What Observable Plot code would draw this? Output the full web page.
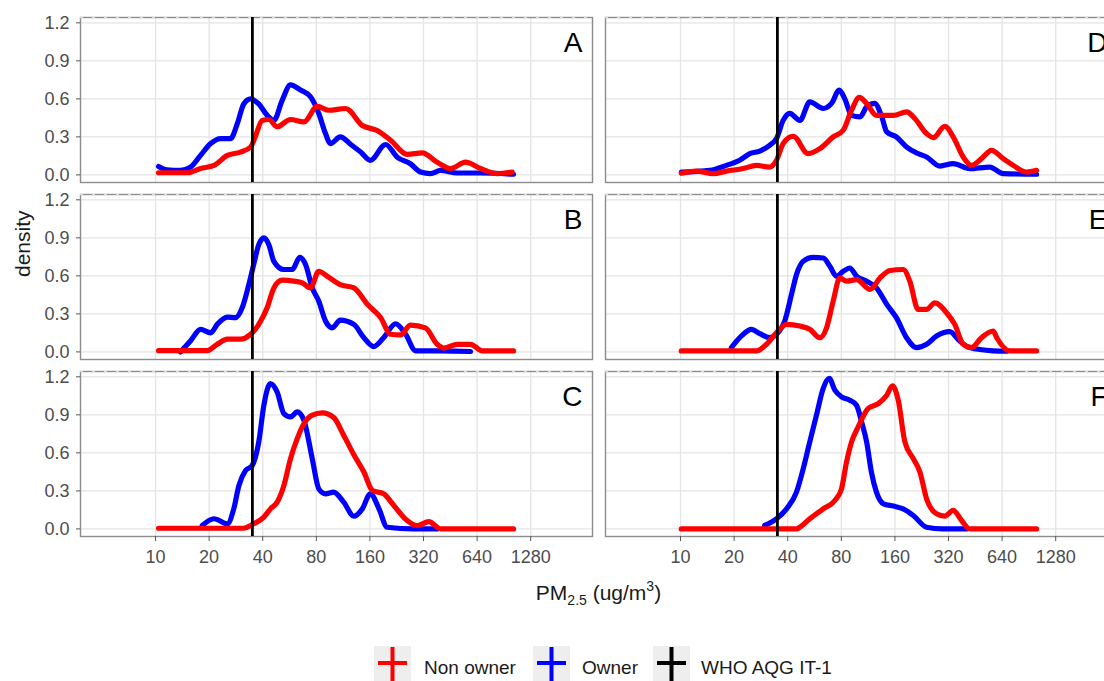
<!DOCTYPE html>
<html>
<head>
<meta charset="utf-8">
<script src="https://cdn.jsdelivr.net/npm/d3@7"></script>
<script src="https://cdn.jsdelivr.net/npm/@observablehq/plot@0.6"></script>
<style>
html, body { margin: 0; padding: 0; background: #fff; overflow: hidden; }
#wrap { position: relative; width: 1104px; height: 681px; overflow: hidden; font-family: "Liberation Sans", Arial, sans-serif; background: #fff; }
#wrap svg.plot { position: absolute; overflow: visible; }
#xlabel { position: absolute; left: 80px; width: 1037px; top: 582px; text-align: center; font-size: 21px; line-height: 21px; color: #1a1a1a; white-space: nowrap; }
#xlabel .sub { font-size: 14px; position: relative; top: 5px; }
#xlabel .sup { font-size: 14px; position: relative; top: -9px; }
.key { position: absolute; top: 646px; width: 37px; height: 37px; }
.ltext { position: absolute; top: 658px; font-size: 19px; line-height: 19px; color: #1a1a1a; white-space: nowrap; }
</style>
</head>
<body>
<div id="wrap">
  <div id="chart"></div>
  <div id="xlabel">PM<span class="sub">2.5</span> (ug/m<span class="sup">3</span>)</div>
  <div id="legend"></div>
</div>
<script>
// ---------- data ----------
const panels = ["A", "B", "C", "D", "E", "F"];
const panelCol = [0, 0, 0, 1, 1, 1];
const panelRow = [0, 1, 2, 0, 1, 2];
const groups = ["Non owner", "Owner"];
const groupColors = ["#ff0000", "#0000ff"];
const whoLabel = "WHO AQG IT-1";
const whoIT1 = 35;
const xTicks = [10, 20, 40, 80, 160, 320, 640, 1280];
const yTicks = [0, 0.3, 0.6, 0.9, 1.2];
const yTitle = "density";

// [PM2.5 (ug/m3), density]
const ownerA = [[10.4,0.067],[11.6,0.04],[13.8,0.035],[15.7,0.06],[17.9,0.154],[20.4,0.247],[23.2,0.287],[26.4,0.287],[28.8,0.405],[31.3,0.56],[34.2,0.60],[38.0,0.56],[42.4,0.47],[46.2,0.43],[51.5,0.59],[57.3,0.71],[65.2,0.67],[74.2,0.616],[82.6,0.485],[90.1,0.326],[96.1,0.247],[109,0.30],[125,0.24],[142,0.18],[161,0.115],[196,0.24],[228,0.14],[270,0.088],[308,0.022],[350,0.01],[399,0.035],[495,0.015],[669,0.015],[1025,0.005]];
const nonOwnerA = [[10.4,0.017],[15.1,0.017],[17.9,0.05],[21.3,0.075],[25.3,0.154],[30.0,0.18],[34.2,0.22],[36.5,0.31],[39.7,0.43],[43.3,0.437],[48.2,0.38],[57.3,0.437],[68.1,0.418],[81.0,0.54],[94.0,0.51],[117,0.524],[145,0.39],[176,0.35],[209,0.273],[259,0.162],[315,0.173],[382,0.10],[454,0.05],[551,0.10],[669,0.05],[830,0.01],[1008,0.022]];
const ownerB = [[13.8,0.0],[15.7,0.086],[17.9,0.178],[20.4,0.15],[22.2,0.217],[25.3,0.275],[28.1,0.27],[30.7,0.35],[33.4,0.53],[35.6,0.69],[38.0,0.846],[40.6,0.90],[43.3,0.846],[46.2,0.715],[52.6,0.65],[58.6,0.65],[64.6,0.746],[69.6,0.69],[75.9,0.505],[82.6,0.40],[90.1,0.244],[98.3,0.19],[109,0.25],[130,0.217],[148,0.112],[168,0.042],[191,0.112],[223,0.222],[254,0.139],[289,0.008],[399,0.008],[588,0.003]];
const nonOwnerB = [[10.4,0.01],[19.5,0.01],[22.2,0.06],[25.3,0.10],[30.0,0.10],[34.2,0.139],[38.0,0.217],[42.4,0.35],[46.2,0.505],[51.5,0.566],[59.8,0.558],[66.7,0.545],[74.2,0.505],[82.6,0.636],[92.1,0.597],[109,0.53],[130,0.505],[155,0.375],[184,0.27],[209,0.139],[238,0.134],[270,0.212],[328,0.19],[382,0.06],[416,0.03],[495,0.06],[588,0.06],[684,0.008],[1025,0.008]];
const ownerC = [[18.3,0.027],[21.3,0.08],[25.3,0.04],[27.5,0.158],[29.4,0.343],[32.0,0.46],[34.9,0.50],[38.0,0.686],[40.6,0.976],[44.2,1.147],[48.2,1.08],[52.6,0.91],[57.3,0.884],[62.5,0.923],[68.1,0.858],[75.9,0.554],[82.6,0.316],[90.1,0.277],[100,0.29],[114,0.211],[130,0.1],[145,0.158],[161,0.277],[180,0.158],[200,0.013],[281,0.0],[382,0.0]];
const nonOwnerC = [[10.4,0.005],[31.2,0.005],[35.6,0.04],[40.6,0.093],[44.2,0.158],[48.2,0.211],[52.6,0.343],[57.3,0.554],[62.5,0.712],[68.1,0.83],[75.9,0.897],[86.3,0.915],[100,0.88],[114,0.739],[130,0.585],[148,0.449],[165,0.304],[191,0.277],[218,0.185],[259,0.066],[295,0.026],[343,0.058],[399,0.0],[1025,0.0]];
const ownerD = [[10.1,0.022],[14.6,0.036],[18.1,0.075],[21.5,0.115],[24.5,0.168],[27.9,0.188],[31.7,0.234],[34.6,0.287],[37.7,0.43],[41.1,0.485],[46.8,0.43],[53.2,0.576],[63.3,0.524],[70.5,0.564],[77.9,0.669],[83.7,0.60],[91.3,0.47],[102,0.458],[111,0.537],[123,0.564],[135,0.458],[144,0.339],[163,0.30],[186,0.22],[212,0.173],[241,0.141],[286,0.07],[340,0.089],[421,0.049],[546,0.062],[649,0.01],[999,0.005]];
const nonOwnerD = [[10.1,0.013],[12.3,0.03],[15.3,0.01],[18.1,0.03],[22.5,0.05],[26.7,0.075],[31.7,0.062],[34.6,0.115],[37.7,0.247],[42.9,0.305],[52.1,0.168],[60.6,0.207],[72.0,0.30],[82.0,0.352],[91.3,0.51],[101,0.611],[111,0.564],[126,0.47],[157,0.47],[186,0.497],[207,0.445],[241,0.326],[263,0.294],[305,0.384],[340,0.30],[387,0.141],[431,0.075],[490,0.128],[558,0.194],[649,0.128],[739,0.075],[877,0.022],[999,0.036]];
const ownerE = [[19.3,0.034],[22.0,0.126],[25.0,0.178],[27.9,0.144],[31.7,0.112],[34.6,0.139],[38.5,0.244],[42.0,0.453],[44.8,0.61],[48.9,0.715],[55.6,0.746],[63.3,0.741],[69.0,0.676],[75.2,0.597],[82.0,0.636],[89.3,0.662],[97.4,0.597],[111,0.558],[126,0.505],[144,0.375],[163,0.27],[186,0.112],[212,0.034],[241,0.06],[274,0.126],[325,0.16],[370,0.086],[421,0.034],[570,0.008],[677,0.005]];
const nonOwnerE = [[10.1,0.008],[26.7,0.008],[30.4,0.06],[34.6,0.152],[39.4,0.217],[46.8,0.204],[53.2,0.178],[60.6,0.112],[66.1,0.19],[72.0,0.40],[78.5,0.584],[85.6,0.558],[97.4,0.571],[116,0.493],[132,0.584],[150,0.642],[178,0.65],[194,0.558],[216,0.335],[241,0.335],[268,0.387],[312,0.309],[347,0.217],[387,0.06],[431,0.034],[490,0.112],[570,0.165],[597,0.112],[707,0.008],[999,0.008]];
const ownerF = [[29.7,0.027],[34.6,0.08],[39.4,0.158],[44.8,0.29],[48.9,0.475],[53.2,0.686],[58.0,0.897],[63.3,1.108],[68.4,1.187],[73.6,1.095],[80.2,1.042],[89.3,1.016],[97.4,0.976],[104,0.844],[111,0.686],[118,0.449],[126,0.29],[138,0.198],[157,0.18],[178,0.158],[203,0.106],[241,0.013],[296,0.0],[404,0.0]];
const nonOwnerF = [[10.1,0.0],[44.8,0.0],[46.8,0.013],[53.2,0.08],[63.3,0.158],[73.6,0.224],[80.2,0.316],[85.6,0.528],[91.3,0.686],[99.5,0.805],[113,0.95],[129,0.989],[144,1.055],[155,1.129],[167,1.016],[182,0.686],[203,0.554],[221,0.449],[241,0.237],[274,0.119],[305,0.10],[340,0.146],[379,0.066],[421,0.0],[999,0.0]];

const ownerSeries = [ownerA, ownerB, ownerC, ownerD, ownerE, ownerF];
const nonOwnerSeries = [nonOwnerA, nonOwnerB, nonOwnerC, nonOwnerD, nonOwnerE, nonOwnerF];

// ---------- layout (not data) ----------
const colLeft = [80, 605];
const rowTop = [17, 194, 370.5];
const panelW = 512, panelH = 165;
const xDomain = [3.79, 2846];
const yDomain = [-0.06, 1.242];
const font = "'Liberation Sans', Arial, sans-serif";

const host = document.getElementById("chart");
panels.forEach((p, i) => {
  const c = panelCol[i], r = panelRow[i];
  const isLeft = c === 0, isBottom = r === 2;
  const mL = isLeft ? 80 : 3, mR = 3, mT = 3, mB = isBottom ? 45 : 3;
  const toRows = (s, g) => s.map(([pm, density]) => ({group: g, pm, density}));
  const nonOwnerRows = toRows(nonOwnerSeries[i], groups[0]);
  const ownerRows = toRows(ownerSeries[i], groups[1]);
  const marks = [
    Plot.gridX(xTicks, {stroke: "#e4e4e4", strokeOpacity: 1, strokeWidth: 1.3}),
    Plot.gridY(yTicks, {stroke: "#e4e4e4", strokeOpacity: 1, strokeWidth: 1.3}),
    Plot.frame({stroke: "#8c8c8c", strokeWidth: 1.4}),
    Plot.ruleY([yDomain[1]], {stroke: "#dadada", strokeWidth: 1.6, strokeDasharray: "3,9"}),
    Plot.line(ownerRows, {x: "pm", y: "density", stroke: "group", strokeWidth: 5.2, curve: "monotone-x"}),
    Plot.line(nonOwnerRows, {x: "pm", y: "density", stroke: "group", strokeWidth: 5.2, curve: "monotone-x"}),
    Plot.ruleX([whoIT1], {stroke: "black", strokeWidth: 2.8}),
    Plot.text([p], {text: d => d, frameAnchor: "top-right", lineAnchor: "top", dx: -10, dy: 15, fontSize: 28, fill: "black"})
  ];
  if (isLeft && r === 1) {
    marks.push(Plot.text([yTitle], {text: d => d, frameAnchor: "left", rotate: -90, dx: -57, fontSize: 21, fill: "#1a1a1a"}));
  }
  if (isBottom) {
    marks.push(Plot.axisX(xTicks, {tickSize: 5, tickPadding: 9, tickFormat: d => String(d), label: null, fontSize: 18, fill: "#4d4d4d", stroke: "#555"}));
  }
  if (isLeft) {
    marks.push(Plot.axisY(yTicks, {tickSize: 4, tickPadding: 7, tickFormat: d => d.toFixed(1), label: null, fontSize: 18, fill: "#4d4d4d", stroke: "#555"}));
  }
  const chart = Plot.plot({
    width: mL + panelW + mR,
    height: mT + panelH + mB,
    marginLeft: mL, marginRight: mR, marginTop: mT, marginBottom: mB,
    style: {fontFamily: font, fontSize: "18px", color: "#4d4d4d", background: "transparent", overflow: "visible"},
    x: {type: "log", base: 2, domain: xDomain, axis: isBottom ? undefined : null},
    y: {domain: yDomain, axis: isLeft ? undefined : null},
    color: {domain: groups, range: groupColors},
    marks
  });
  chart.classList.add("plot");
  chart.style.left = (colLeft[c] - mL) + "px";
  chart.style.top = (rowTop[r] - mT) + "px";
  host.appendChild(chart);
});

// ---------- legend ----------
const legendItems = [
  {label: groups[0], color: groupColors[0], keyLeft: 374, textLeft: 424},
  {label: groups[1], color: groupColors[1], keyLeft: 533, textLeft: 582},
  {label: whoLabel, color: "#000000", keyLeft: 653, textLeft: 701}
];
const legend = document.getElementById("legend");
legendItems.forEach(it => {
  const key = document.createElement("div");
  key.className = "key";
  key.style.left = it.keyLeft + "px";
  key.innerHTML = `<svg width="37" height="37"><rect width="37" height="37" fill="#eeeeee"/>` +
    `<line x1="18.5" x2="18.5" y1="1" y2="37" stroke="${it.color}" stroke-width="4"/>` +
    `<line x1="4" x2="33" y1="17" y2="17" stroke="${it.color}" stroke-width="4"/></svg>`;
  legend.appendChild(key);
  const t = document.createElement("div");
  t.className = "ltext";
  t.style.left = it.textLeft + "px";
  t.textContent = it.label;
  legend.appendChild(t);
});
</script>
</body>
</html>
